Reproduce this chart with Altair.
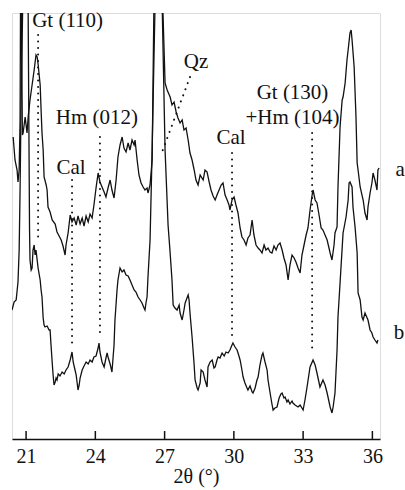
import altair as alt
import pandas as pd

# 2-theta (degrees) and intensity (arbitrary units)
theta_a = [20.44, 20.52, 20.61, 20.65, 20.70, 20.74, 20.77, 20.84, 20.87, 20.96, 21.04, 21.09, 21.17, 21.26,
           21.35, 21.43, 21.48, 21.52, 21.61, 21.65, 21.69, 21.74, 21.78, 21.87, 21.91, 21.95, 22.04, 22.13,
           22.26, 22.34, 22.43, 22.52, 22.60, 22.69, 22.73, 22.82, 22.91, 22.99, 23.08, 23.17, 23.25, 23.34,
           23.43, 23.51, 23.60, 23.69, 23.77, 23.86, 23.94, 24.03, 24.12, 24.20, 24.29, 24.38, 24.46, 24.55,
           24.64, 24.72, 24.81, 24.90, 24.98, 25.07, 25.16, 25.24, 25.33, 25.42, 25.50, 25.59, 25.68, 25.72,
           25.81, 25.89, 25.98, 26.07, 26.15, 26.24, 26.28, 26.37, 26.46, 26.54, 26.70, 26.85, 26.93, 27.02,
           27.11, 27.24, 27.32, 27.41, 27.50, 27.58, 27.67, 27.76, 27.84, 27.93, 28.02, 28.10, 28.19, 28.28,
           28.36, 28.45, 28.54, 28.67, 28.75, 28.84, 28.93, 29.01, 29.10, 29.19, 29.27, 29.36, 29.45, 29.53,
           29.62, 29.71, 29.79, 29.83, 29.92, 30.01, 30.09, 30.18, 30.27, 30.35, 30.44, 30.53, 30.61, 30.70,
           30.79, 30.87, 30.96, 31.05, 31.13, 31.22, 31.31, 31.39, 31.48, 31.57, 31.65, 31.74, 31.83, 31.91,
           32.00, 32.09, 32.17, 32.26, 32.35, 32.43, 32.52, 32.61, 32.69, 32.78, 32.87, 32.95, 33.04, 33.13,
           33.21, 33.30, 33.39, 33.43, 33.52, 33.60, 33.69, 33.78, 33.86, 33.95, 34.04, 34.17, 34.25, 34.34,
           34.38, 34.47, 34.51, 34.60, 34.69, 34.73, 34.82, 34.90, 34.95, 35.03, 35.08, 35.12, 35.21, 35.29,
           35.34, 35.38, 35.47, 35.60, 35.68, 35.77, 35.81, 35.90, 35.98, 36.03, 36.11, 36.20, 36.24, 36.29]
int_a = [302, 279, 269, 257, 269, 319, 499, 304, 306, 322, 306, 322, 339, 354,
         369, 384, 382, 375, 354, 329, 306, 289, 262, 254, 249, 232, 227, 219,
         215, 207, 203, 199, 193, 184, 194, 206, 224, 217, 221, 214, 223, 215,
         221, 213, 223, 217, 225, 221, 234, 251, 266, 257, 252, 247, 242, 251,
         259, 249, 241, 259, 282, 294, 302, 291, 287, 296, 289, 299, 294, 299,
         279, 264, 256, 252, 249, 251, 246, 254, 279, 439, 739, 499, 426, 356,
         349, 342, 334, 337, 327, 321, 316, 319, 309, 311, 299, 286, 279, 269,
         259, 254, 264, 259, 269, 267, 257, 249, 243, 239, 244, 249, 254, 256,
         244, 239, 234, 229, 239, 242, 234, 226, 211, 202, 199, 194, 201, 204,
         219, 204, 194, 191, 189, 186, 194, 189, 191, 187, 186, 193, 189, 194,
         196, 189, 181, 174, 159, 174, 184, 181, 177, 171, 166, 184, 194, 204,
         211, 229, 244, 249, 239, 236, 224, 211, 209, 204, 199, 186, 179, 194,
         206, 212, 252, 312, 339, 342, 356, 379, 389, 406, 409, 399, 372, 322,
         276, 269, 252, 239, 226, 219, 232, 246, 256, 266, 259, 249, 269, 271]

theta_b = [20.39, 20.48, 20.57, 20.65, 20.70, 20.74, 20.78, 20.83, 20.96, 21.09, 21.15, 21.17, 21.22, 21.26,
           21.30, 21.35, 21.39, 21.43, 21.48, 21.52, 21.61, 21.65, 21.69, 21.74, 21.78, 21.82, 21.91, 22.00,
           22.04, 22.08, 22.13, 22.17, 22.21, 22.26, 22.30, 22.34, 22.39, 22.47, 22.56, 22.65, 22.73, 22.82,
           22.91, 22.99, 23.04, 23.12, 23.17, 23.25, 23.30, 23.34, 23.43, 23.51, 23.60, 23.69, 23.77, 23.86,
           23.94, 24.03, 24.12, 24.16, 24.20, 24.29, 24.38, 24.46, 24.51, 24.55, 24.64, 24.72, 24.81, 24.85,
           24.94, 24.98, 25.07, 25.16, 25.24, 25.33, 25.42, 25.50, 25.59, 25.68, 25.76, 25.85, 25.94, 26.02,
           26.11, 26.15, 26.20, 26.24, 26.28, 26.37, 26.46, 26.59, 26.74, 26.89, 27.02, 27.15, 27.24, 27.32,
           27.37, 27.45, 27.54, 27.63, 27.67, 27.76, 27.84, 27.89, 27.97, 28.02, 28.06, 28.10, 28.19, 28.28,
           28.32, 28.41, 28.45, 28.54, 28.58, 28.67, 28.75, 28.84, 28.88, 28.97, 29.06, 29.14, 29.19, 29.27,
           29.32, 29.40, 29.49, 29.58, 29.66, 29.75, 29.83, 29.92, 29.96, 30.05, 30.14, 30.22, 30.27, 30.35,
           30.40, 30.48, 30.57, 30.61, 30.70, 30.79, 30.83, 30.92, 31.00, 31.05, 31.13, 31.22, 31.26, 31.35,
           31.44, 31.48, 31.57, 31.65, 31.70, 31.78, 31.87, 31.96, 32.04, 32.09, 32.17, 32.22, 32.30, 32.35,
           32.43, 32.52, 32.56, 32.65, 32.78, 32.87, 33.00, 33.08, 33.17, 33.30, 33.43, 33.52, 33.60, 33.73,
           33.86, 33.95, 34.04, 34.17, 34.25, 34.30, 34.38, 34.47, 34.51, 34.60, 34.73, 34.86, 34.95, 34.99,
           35.03, 35.12, 35.16, 35.25, 35.34, 35.38, 35.47, 35.55, 35.60, 35.68, 35.81, 35.90, 35.98, 36.03,
           36.11, 36.20, 36.24]
int_b = [129, 137, 139, 157, 189, 249, 329, 399, 589, 426, 209, 179, 169, 171,
         189, 194, 184, 189, 179, 171, 159, 149, 142, 121, 114, 112, 113, 109,
         109, 94, 77, 64, 54, 57, 61, 59, 65, 63, 67, 65, 69, 72,
         79, 87, 77, 69, 64, 49, 54, 61, 69, 73, 77, 75, 79, 77,
         82, 83, 91, 96, 87, 77, 72, 81, 86, 82, 75, 67, 94, 119,
         149, 159, 171, 167, 169, 164, 163, 159, 154, 149, 147, 142, 139, 136,
         131, 129, 137, 142, 162, 199, 289, 439, 739, 439, 289, 214, 186, 159,
         134, 131, 129, 134, 126, 119, 129, 136, 141, 144, 139, 126, 102, 74,
         59, 51, 49, 56, 69, 67, 59, 52, 72, 77, 79, 71, 72, 79,
         82, 81, 86, 83, 87, 86, 89, 94, 96, 92, 89, 83, 79, 69,
         62, 56, 51, 49, 53, 47, 46, 51, 59, 62, 74, 84, 86, 77,
         69, 59, 46, 35, 29, 31, 32, 41, 45, 46, 41, 42, 37, 39,
         35, 38, 36, 34, 32, 34, 29, 39, 52, 72, 79, 74, 66, 52,
         59, 54, 46, 32, 26, 32, 46, 89, 122, 156, 206, 222, 239, 256,
         257, 252, 232, 212, 186, 146, 139, 122, 119, 126, 119, 109, 106, 102,
         99, 96, 99]

# reflection markers (dotted guide lines)
mark_x1 = [21.52, 22.99, 24.20, 29.92, 33.39, 28.10]
mark_x2 = [21.52, 22.99, 24.20, 29.92, 33.39, 26.89]
mark_y1 = [404, 259, 302, 286, 306, 362]
mark_y2 = [197, 92, 106, 99, 89, 287]

# text labels
label_text = ["Gt (110)", "Cal", "Hm (012)", "Qz", "Cal", "Gt (130)", "+Hm (104)", "a", "b"]
label_x = [22.80, 22.95, 24.07, 28.36, 29.88, 32.54, 32.54, 37.20, 37.15]
label_y = [418, 271, 321, 377, 301, 346, 321, 269, 106]

tick_values = [21, 24, 27, 30, 33, 36]

FONT = "'Liberation Serif', 'Times New Roman', 'DejaVu Serif', serif"
W, H = 368, 426

df = pd.concat([
    pd.DataFrame({"theta": theta_a, "intensity": int_a, "trace": "a", "idx": range(len(theta_a))}),
    pd.DataFrame({"theta": theta_b, "intensity": int_b, "trace": "b", "idx": range(len(theta_b))}),
])
marks_df = pd.DataFrame({"x1": mark_x1, "x2": mark_x2, "y1": mark_y1, "y2": mark_y2})
labels_df = pd.DataFrame({"text": label_text, "x": label_x, "y": label_y})
ticks_df = pd.DataFrame({"t": tick_values})

xscale = alt.Scale(domain=[20.39, 36.33], nice=False, zero=False)
yscale = alt.Scale(domain=[0, H], nice=False, zero=False)

lines = alt.Chart(df).mark_line(color="#111111", strokeWidth=1.3, clip=True).encode(
    x=alt.X("theta:Q", scale=xscale,
            axis=alt.Axis(values=tick_values, title="2θ (°)", ticks=False, tickSize=0,
                          grid=False, domainColor="#111111", domainWidth=1.6,
                          labelFont=FONT, labelFontSize=20, labelColor="#111111",
                          labelPadding=7, titleFont=FONT, titleFontSize=20,
                          titleFontWeight="normal", titleColor="#111111",
                          titleY=37, titleBaseline="middle")),
    y=alt.Y("intensity:Q", scale=yscale, axis=None),
    detail="trace:N",
    order="idx:Q",
)

guides = alt.Chart(marks_df).mark_rule(color="#111111", strokeWidth=2, strokeDash=[0.1, 6.4],
                                       strokeCap="round").encode(
    x=alt.X("x1:Q", scale=xscale), x2="x2:Q",
    y=alt.Y("y1:Q", scale=yscale), y2="y2:Q",
)

labels = alt.Chart(labels_df).mark_text(font=FONT, fontSize=21, color="#111111",
                                        align="center", baseline="middle").encode(
    x=alt.X("x:Q", scale=xscale),
    y=alt.Y("y:Q", scale=yscale),
    text="text:N",
)

ticks = alt.Chart(ticks_df).mark_rule(color="#111111", strokeWidth=1.5).encode(
    x=alt.X("t:Q", scale=xscale),
    y=alt.value(H - 8),
    y2=alt.value(H),
)

chart = alt.layer(lines, guides, labels, ticks).properties(
    width=W, height=H,
    padding={"left": 12, "top": 13, "right": 25, "bottom": 51},
    autosize=alt.AutoSizeParams(type="none"),
).configure_view(stroke=None).configure(background="white")

chart.save("out.html", embed_options={"renderer": "svg", "actions": False})
